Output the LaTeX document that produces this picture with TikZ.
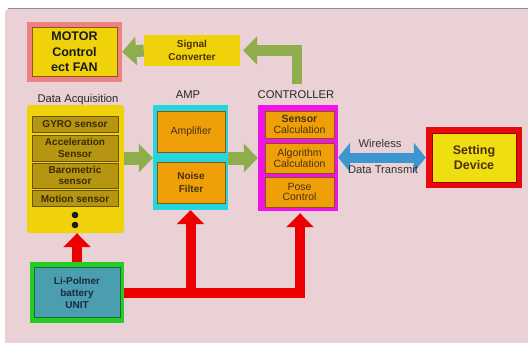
\documentclass[tikz,border=0pt]{standalone}
\usepackage{fontspec}
\setmainfont{Liberation Sans}
\usetikzlibrary{arrows.meta}
\definecolor{bgpink}{HTML}{E9D1D5}
\definecolor{salmon}{HTML}{EE8282}
\definecolor{ylw}{HTML}{EFD20A}
\definecolor{ylwb}{HTML}{8A5A10}
\definecolor{olivebox}{HTML}{B59512}
\definecolor{oliveline}{HTML}{6A5404}
\definecolor{olivetext}{HTML}{3A2C04}
\definecolor{orng}{HTML}{EFA008}
\definecolor{orngline}{HTML}{8A5410}
\definecolor{brtext}{HTML}{4A3010}
\definecolor{cyanb}{HTML}{25D6DF}
\definecolor{magb}{HTML}{F214E6}
\definecolor{garrow}{HTML}{8FAD4C}
\definecolor{barrow}{HTML}{3C96CF}
\definecolor{rarrow}{HTML}{EC0000}
\definecolor{gbatt}{HTML}{25CC25}
\definecolor{teal}{HTML}{4B9EB0}
\definecolor{tealline}{HTML}{1C6A32}
\definecolor{batttext}{HTML}{1A2A40}
\definecolor{setred}{HTML}{E60A0A}
\definecolor{setylw}{HTML}{F0DF10}
\tikzset{
  box/.style={rectangle, inner sep=0pt, align=center},
  sensorbox/.style={box, fill=olivebox, draw=oliveline, line width=0.8pt, minimum width=86pt,
    text=olivetext, font=\fontsize{10}{11.5}\selectfont\bfseries},
  orbox/.style={box, fill=orng, draw=orngline, line width=0.8pt, text=brtext},
  lbl/.style={inner sep=0pt, anchor=base, text=black!85, font=\fontsize{11.2}{13}\selectfont},
  garr/.style={draw=garrow, line width=13pt, -{Triangle[width=28pt,length=14pt]}},
  rarr/.style={draw=rarrow, line width=10pt, -{Triangle[width=27pt,length=14pt]}},
  barr/.style={draw=barrow, line width=10pt, {Triangle[width=29pt,length=12pt]}-{Triangle[width=29pt,length=12pt]}}
}
\begin{document}
\begin{tikzpicture}[x=1pt,y=-1pt]
\useasboundingbox (0,0) rectangle (528,343);
\fill[white] (0,0) rectangle (528,343);
\fill[bgpink, rounded corners=6pt] (5,8) rectangle (545,360);
\draw[black!45, line width=1pt] (8,8) -- (528,8);

% MOTOR
\node[box, fill=salmon, minimum width=95pt, minimum height=60pt] (motorout) at (74.5,52) {};
\node[box, fill=ylw, draw=ylwb, line width=0.8pt, minimum width=85pt, minimum height=49pt,
  text=black!90, font=\fontsize{12.5}{15.5}\selectfont\bfseries] (motor) at (74.5,52) {MOTOR\\Control\\ect FAN};

% Signal converter
\node[box, fill=ylw, minimum width=96pt, minimum height=31pt, text=brtext,
  font=\fontsize{10}{12.5}\selectfont\bfseries] (sig) at (192,50.5) {Signal\\Converter};

% labels
\node[lbl] (lda) at (78,102) {Data Acquisition};
\node[lbl] (lamp) at (188,98) {AMP};
\node[lbl] (lctrl) at (296,98) {CONTROLLER};

% Data acquisition
\node[box, fill=ylw, rounded corners=3pt, minimum width=97pt, minimum height=128pt] (da) at (75.5,169) {};
\node[sensorbox, minimum height=16pt] (gyro) at (75,124.5) {GYRO sensor};
\node[sensorbox, minimum height=26pt] (acc) at (75,148) {Acceleration\\Sensor};
\node[sensorbox, minimum height=25pt] (baro) at (75,175.5) {Barometric\\sensor};
\node[sensorbox, minimum height=16pt] (motion) at (75,198.5) {Motion sensor};
\fill[black!90] (75,215) circle (3.3pt);
\fill[black!90] (75,225) circle (3.3pt);

% AMP
\node[box, fill=cyanb, minimum width=75pt, minimum height=105pt] (amp) at (190.5,157.5) {};
\node[orbox, minimum width=68pt, minimum height=41pt,
  font=\fontsize{10.5}{12}\selectfont] (ampl) at (191,131.5) {Amplifier};
\node[orbox, minimum width=68pt, minimum height=41pt,
  font=\fontsize{10}{13}\selectfont\bfseries] (noise) at (191,182.5) {Noise\\Filter};

% CONTROLLER
\node[box, fill=magb, minimum width=80pt, minimum height=106pt] (ctrl) at (298,158) {};
\node[orbox, minimum width=69pt, minimum height=27pt,
  font=\fontsize{10.5}{10.5}\selectfont] (scalc) at (299.5,124.5) {\textbf{Sensor}\\Calculation};
\node[orbox, minimum width=69pt, minimum height=30pt,
  font=\fontsize{10.5}{10.5}\selectfont] (acalc) at (299.5,158) {Algorithm\\Calculation};
\node[orbox, minimum width=69pt, minimum height=30pt,
  font=\fontsize{10.5}{10.5}\selectfont] (pose) at (299.5,192) {Pose\\Control};

% Setting device
\node[box, fill=setred, minimum width=96pt, minimum height=61pt] (setout) at (474,157.5) {};
\node[box, fill=setylw, draw=red!60!black, line width=0.6pt, minimum width=84pt, minimum height=49pt,
  text=brtext, font=\fontsize{12.5}{15}\selectfont\bfseries] (set) at (474,157.5) {Setting\\Device};

% Battery
\node[box, fill=gbatt, minimum width=94pt, minimum height=61pt] (battout) at (77,292.5) {};
\node[box, fill=teal, draw=tealline, line width=0.8pt, minimum width=86pt, minimum height=50pt,
  text=batttext, font=\fontsize{10}{12}\selectfont\bfseries] (batt) at (77,292.5) {Li-Polmer\\battery\\UNIT};

% green arrows
\draw[garr, line width=12pt] (sig.west) -- (motorout.east);
\coordinate (gstart) at (297,84);
\draw[garr, line width=10.5pt] (gstart) |- ([xshift=3pt]sig.east);
\draw[garr] (da.east |- 0,158) -- (amp.west |- 0,158);
\draw[garr] (amp.east |- 0,158) -- (ctrl.west |- 0,158);

% blue double arrow
\draw[barr] (ctrl.east |- 0,157.5) -- (setout.west);
\node[lbl, anchor=center, text=black!80] (wl) at (380,143) {Wireless};
\node[lbl, anchor=center, text=black!80] (dt) at (383,169) {Data Transmit};

% red arrows
\draw[rarr] (battout.north) -- (battout.north |- da.south);
\draw[rarr] (amp.south |- battout.east) -- (amp.south);
\draw[rarr] (battout.east) -| ([xshift=2pt,yshift=-2pt]ctrl.south);
\end{tikzpicture}
\end{document}
